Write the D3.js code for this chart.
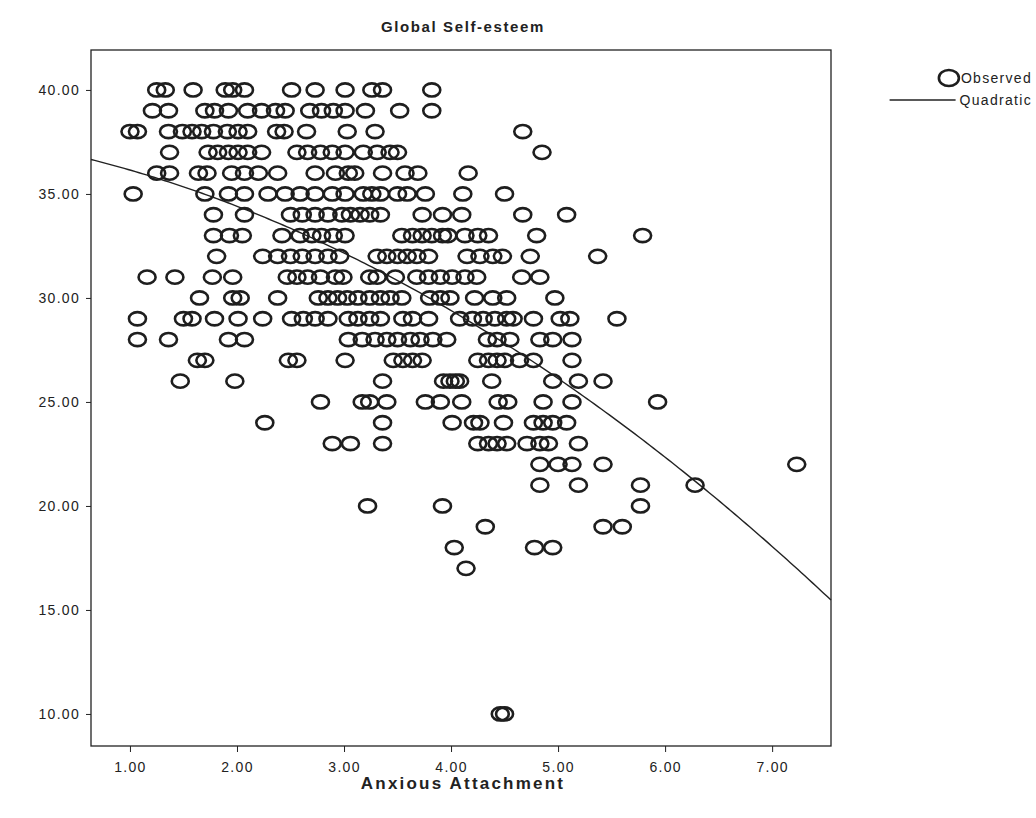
<!DOCTYPE html>
<html>
<head>
<meta charset="utf-8">
<style>
  body { margin: 0; background: #fff; }
  text { font-family: "Liberation Sans", Arial, sans-serif; fill: #222; }
  .tick text { font-size: 14px; letter-spacing: 1.3px; }
</style>
</head>
<body>
<svg id="chart" width="1036" height="818"></svg>
<script src="https://d3js.org/d3.v7.min.js"></script>
<script>
// anxious attachment scores, one array per self-esteem score
var se40 = [1.25, 1.33, 1.59, 1.89, 1.96, 2.07, 2.51, 2.73, 3.01, 3.26, 3.36, 3.82];
var se39 = [1.21, 1.36, 1.70, 1.79, 1.92, 2.10, 2.23, 2.36, 2.45, 2.68, 2.79, 2.90, 3.01, 3.20, 3.52, 3.82];
var se38 = [1.00, 1.07, 1.36, 1.49, 1.58, 1.67, 1.78, 1.91, 2.01, 2.10, 2.37, 2.44, 2.65, 3.03, 3.29, 4.67];
var se37 = [1.37, 1.73, 1.82, 1.92, 2.01, 2.10, 2.23, 2.56, 2.66, 2.78, 2.89, 3.01, 3.18, 3.31, 3.43, 3.50, 4.85];
var se36 = [1.25, 1.37, 1.64, 1.72, 1.95, 2.07, 2.20, 2.38, 2.73, 2.92, 3.04, 3.10, 3.36, 3.57, 3.69, 4.16];
var se35 = [1.03, 1.70, 1.92, 2.07, 2.29, 2.45, 2.59, 2.73, 2.89, 3.01, 3.18, 3.26, 3.34, 3.50, 3.59, 3.76, 4.11, 4.50];
var se34 = [1.78, 2.07, 2.50, 2.61, 2.73, 2.85, 2.98, 3.06, 3.15, 3.24, 3.34, 3.73, 3.92, 4.10, 4.67, 5.08];
var se33 = [1.78, 1.93, 2.05, 2.42, 2.59, 2.70, 2.79, 2.90, 3.01, 3.54, 3.64, 3.73, 3.82, 3.92, 3.97, 4.13, 4.25, 4.35, 4.80, 5.79];
var se32 = [1.81, 2.24, 2.38, 2.50, 2.61, 2.73, 2.85, 2.96, 3.31, 3.40, 3.50, 3.59, 3.68, 3.79, 4.15, 4.27, 4.39, 4.48, 4.74, 5.37];
var se31 = [1.16, 1.42, 1.77, 1.96, 2.47, 2.56, 2.66, 2.78, 2.92, 2.99, 3.24, 3.31, 3.48, 3.68, 3.79, 3.90, 4.01, 4.13, 4.24, 4.66, 4.83];
var se30 = [1.65, 1.96, 2.03, 2.38, 2.76, 2.85, 2.94, 3.03, 3.13, 3.24, 3.34, 3.43, 3.54, 3.80, 3.90, 3.99, 4.22, 4.39, 4.52, 4.97];
var se29 = [1.07, 1.50, 1.58, 1.79, 2.01, 2.24, 2.51, 2.62, 2.73, 2.85, 3.04, 3.13, 3.24, 3.34, 3.55, 3.64, 3.79, 4.08, 4.20, 4.30, 4.41, 4.52, 4.58, 4.77, 5.02, 5.11, 5.55];
var se28 = [1.07, 1.36, 1.92, 2.07, 3.04, 3.17, 3.29, 3.40, 3.50, 3.62, 3.71, 3.83, 3.96, 4.34, 4.43, 4.55, 4.83, 4.95, 5.13];
var se27 = [1.63, 1.70, 2.48, 2.56, 3.01, 3.46, 3.55, 3.64, 3.73, 4.25, 4.35, 4.43, 4.50, 4.64, 4.77, 5.13];
var se26 = [1.47, 1.98, 3.36, 3.93, 3.99, 4.04, 4.08, 4.38, 4.95, 5.19, 5.42];
var se25 = [2.78, 3.17, 3.24, 3.40, 3.76, 3.90, 4.10, 4.44, 4.53, 4.86, 5.13, 5.93];
var se24 = [2.26, 3.36, 4.01, 4.21, 4.27, 4.49, 4.77, 4.86, 4.95, 5.08];
var se23 = [2.89, 3.06, 3.36, 4.25, 4.35, 4.43, 4.52, 4.71, 4.83, 4.91, 5.19];
var se22 = [4.83, 5.00, 5.13, 5.42, 7.23];
var se21 = [4.83, 5.19, 5.77, 6.28];
var se20 = [3.22, 3.92, 5.77];
var se19 = [4.32, 5.42, 5.60];
var se18 = [4.03, 4.78, 4.95];
var se17 = [4.14];
var se10 = [4.46, 4.50];

var rows = [
  [40, se40], [39, se39], [38, se38], [37, se37], [36, se36], [35, se35],
  [34, se34], [33, se33], [32, se32], [31, se31], [30, se30], [29, se29],
  [28, se28], [27, se27], [26, se26], [25, se25], [24, se24], [23, se23],
  [22, se22], [21, se21], [20, se20], [19, se19], [18, se18], [17, se17],
  [10, se10]
];

// quadratic fit: a + b*x + c*x^2
var quadCoef = [37.38, -0.976, -0.255];

var xTicks = [1, 2, 3, 4, 5, 6, 7];
var yTicks = [10, 15, 20, 25, 30, 35, 40];

var points = [];
rows.forEach(function (r) {
  r[1].forEach(function (v) { points.push({ x: v, y: r[0] }); });
});

var plotL = 91, plotR = 831, plotT = 50, plotB = 746;

var x = d3.scaleLinear().domain([0.636, 7.55]).range([plotL, plotR]);
var y = d3.scaleLinear().domain([8.46, 41.92]).range([plotB, plotT]);

var svg = d3.select('#chart');

// frame
svg.append('rect')
  .attr('x', plotL).attr('y', plotT)
  .attr('width', plotR - plotL).attr('height', plotB - plotT)
  .attr('fill', 'none')
  .attr('stroke', '#222')
  .attr('stroke-width', 1.3);

var fmt = d3.format('.2f');

svg.append('g')
  .attr('transform', 'translate(0,' + plotB + ')')
  .call(d3.axisBottom(x).tickValues(xTicks).tickFormat(fmt).tickSize(6).tickPadding(10))
  .call(g => g.select('.domain').remove())
  .call(g => g.selectAll('.tick line').attr('stroke', '#222'));

svg.append('g')
  .attr('transform', 'translate(' + plotL + ',0)')
  .call(d3.axisLeft(y).tickValues(yTicks).tickFormat(fmt).tickSize(5).tickPadding(6))
  .call(g => g.select('.domain').remove())
  .call(g => g.selectAll('.tick line').attr('stroke', '#222'));

// fit line
var xs = d3.range(0, 201).map(i => x.domain()[0] + (x.domain()[1] - x.domain()[0]) * i / 200);
var line = d3.line()
  .x(d => x(d))
  .y(d => y(quadCoef[0] + quadCoef[1] * d + quadCoef[2] * d * d));

svg.append('path')
  .datum(xs)
  .attr('d', line)
  .attr('fill', 'none')
  .attr('stroke', '#222')
  .attr('stroke-width', 1.4);

// observed points
svg.append('g')
  .selectAll('ellipse')
  .data(points)
  .enter()
  .append('ellipse')
  .attr('cx', d => x(d.x))
  .attr('cy', d => y(d.y))
  .attr('rx', 8.5)
  .attr('ry', 6.6)
  .attr('fill', 'none')
  .attr('stroke', '#1e1e1e')
  .attr('stroke-width', 2.6);

// titles
svg.append('text')
  .attr('x', 463).attr('y', 32)
  .attr('text-anchor', 'middle')
  .attr('font-size', 15)
  .attr('font-weight', 'bold')
  .attr('letter-spacing', 1.6)
  .text('Global Self-esteem');

svg.append('text')
  .attr('x', 463).attr('y', 789)
  .attr('text-anchor', 'middle')
  .attr('font-size', 17)
  .attr('font-weight', 'bold')
  .attr('letter-spacing', 2.2)
  .text('Anxious Attachment');

// legend
var lg = svg.append('g');
var obsText = lg.append('text')
  .attr('x', 1032).attr('y', 83)
  .attr('text-anchor', 'end')
  .attr('font-size', 14).attr('letter-spacing', 1.3)
  .text('Observed');
var quadText = lg.append('text')
  .attr('x', 1032).attr('y', 105)
  .attr('text-anchor', 'end')
  .attr('font-size', 14).attr('letter-spacing', 1.3)
  .text('Quadratic');

var ob = obsText.node().getBBox();
lg.append('ellipse')
  .attr('cx', ob.x - 12).attr('cy', 78)
  .attr('rx', 10).attr('ry', 8)
  .attr('fill', 'none').attr('stroke', '#1e1e1e').attr('stroke-width', 2.6);

var qb = quadText.node().getBBox();
lg.append('line')
  .attr('x1', qb.x - 70).attr('x2', qb.x - 4).attr('y1', 100).attr('y2', 100)
  .attr('stroke', '#222').attr('stroke-width', 1.4);
</script>
</body>
</html>
